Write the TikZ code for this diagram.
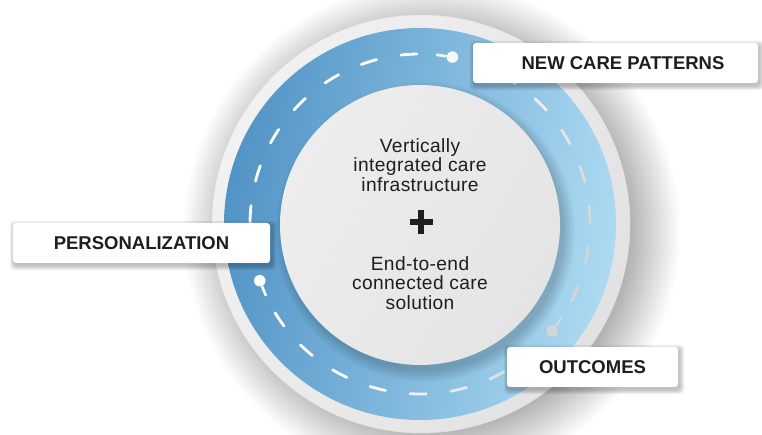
\documentclass[tikz,border=0pt]{standalone}
\usepackage{fontspec}
\setmainfont{Liberation Sans}
\newfontfamily\ctrfont[LetterSpace=2]{Liberation Sans}
\usetikzlibrary{calc}
\definecolor{disclight}{HTML}{F1F1F1}
\definecolor{discdark}{HTML}{E2E2E2}
\definecolor{innerlight}{HTML}{EDEDED}
\definecolor{innerdark}{HTML}{E4E4E4}
\definecolor{ringdark}{HTML}{5294C6}
\definecolor{ringlight}{HTML}{ADDAF2}
\definecolor{txt}{HTML}{1E1E1E}
\definecolor{dashfar}{HTML}{D2D6D9}
\tikzset{
  labelbox/.style={fill=white, rounded corners=3pt, minimum height=40pt, inner sep=0pt, font=\bfseries\fontsize{18.5}{20}\selectfont, text=txt},
  centertext/.style={align=center, inner sep=0pt, font=\ctrfont\fontsize{19.2}{19.8}\selectfont, text=txt},
  roaddash/.style={line width=2.8pt, line cap=round},
  roadpin/.style={circle, minimum size=11.5pt, inner sep=0pt},
  stalk/.style={line width=2.6pt},
  plusbar/.style={line width=6.5pt, draw=txt},
}
\newcommand\boxshadow[4]{%
  \foreach \k in {1,...,7}{%
    \fill[black, opacity=0.035, rounded corners=4pt]
      (#1+1.5-\k*0.7, #2-2.5-\k*0.7) rectangle (#3+1.5+\k*0.7, #4-2.5+\k*0.7);
  }}
\begin{document}
\begin{tikzpicture}[x=1pt,y=1pt]
\useasboundingbox (0,0) rectangle (762,435);
\fill[white] (0,0) rectangle (762,435);
\coordinate (C) at (420,211);
% soft shadow of the disc
\foreach \k in {0,...,24}{\fill[black,opacity=0.011] (432,204) circle[radius=200+2*\k];}
% outer disc
\path[left color=disclight, right color=discdark, shading angle=60, draw=discdark] (421,211) circle[radius=209];
% blue ring
\path[even odd rule, left color=ringdark, right color=ringlight, shading angle=80] (C) circle[radius=196] (C) circle[radius=136];
% shadow of the inner circle on the ring
\foreach \k in {1,...,8}{\fill[black,opacity=0.025] (425,203) circle[radius=137+1.6*\k];}
% inner circle
\path[left color=innerlight, right color=innerdark, shading angle=60] (420,210) circle[radius=140];
% road dashes
\foreach \s in {91,211.5,333}{
  \foreach \i in {0,...,6}{
    \pgfmathsetmacro\a{\s+13.8*\i}
    \pgfmathsetmacro\b{\a+5.4}
    \pgfmathsetmacro\t{100*max(0,cos(\a+2.7-340))}
    \draw[roaddash, draw=dashfar!\t!white] ($(C)+(\a:170)$) arc[start angle=\a, end angle=\b, radius=170];
  }
}
% pins
\node[roadpin, fill=white!97!black] (p1) at ($(C)+(79:170)$) {};
\coordinate (s1) at ($(C)+(84.5:170)$);
\draw[stalk, white!97!black] (p1) -- (s1);
\node[roadpin, fill=white] (p2) at ($(C)+(199.5:170)$) {};
\coordinate (s2) at ($(C)+(205:170)$);
\draw[stalk, white] (p2) -- (s2);
\node[roadpin, fill=dashfar] (p3) at ($(C)+(321:170)$) {};
\coordinate (s3) at ($(C)+(326.5:170)$);
\draw[stalk, dashfar] (p3) -- (s3);
% label boxes
\boxshadow{473}{352}{758}{392}
\node[labelbox, minimum width=285pt] (ncp) at (615.5,372) {\hspace*{15pt}NEW CARE PATTERNS};
\boxshadow{13}{172}{270}{212}
\node[labelbox, minimum width=257pt] (pers) at (141.5,192) {PERSONALIZATION};
\boxshadow{507}{48}{678}{88}
\node[labelbox, minimum width=171pt] (out) at (592.5,68) {OUTCOMES};
% centre texts
\node[centertext] (t1) at (420,270) {Vertically\\integrated care\\infrastructure};
\node[centertext] (t2) at (420,152) {End-to-end\\connected care\\solution};
\coordinate (plus) at (421,213);
\draw[plusbar] ($(plus)+(-11.5,0)$) -- ($(plus)+(11.5,0)$);
\draw[plusbar] ($(plus)+(0,-12)$) -- ($(plus)+(0,12)$);
\end{tikzpicture}
\end{document}
